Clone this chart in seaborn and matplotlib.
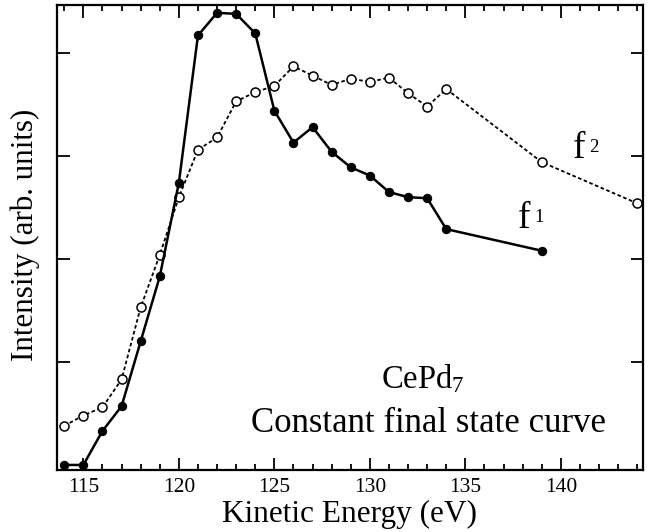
import matplotlib
matplotlib.use("Agg")
import matplotlib.pyplot as plt
from matplotlib.ticker import MultipleLocator
import seaborn as sns

# ---- data ----
energy_f1 = [114, 115, 116, 117, 118, 119, 120, 121, 122, 123, 124,
             125, 126, 127, 128, 129, 130, 131, 132, 133, 134, 139]
intensity_f1 = [0.00, 0.00, 0.33, 0.57, 1.20, 1.83, 2.74, 4.17, 4.39, 4.38, 4.19,
                3.44, 3.13, 3.28, 3.04, 2.89, 2.81, 2.65, 2.60, 2.59, 2.29, 2.08]

energy_f2 = [114, 115, 116, 117, 118, 119, 120, 121, 122, 123, 124,
             125, 126, 127, 128, 129, 130, 131, 132, 133, 134, 139, 144]
intensity_f2 = [0.38, 0.48, 0.56, 0.83, 1.53, 2.04, 2.60, 3.06, 3.18, 3.53, 3.62,
                3.68, 3.87, 3.78, 3.69, 3.75, 3.72, 3.76, 3.61, 3.48, 3.65, 2.94, 2.54]

x_ticks = [115, 120, 125, 130, 135, 140]
y_ticks = [1, 2, 3, 4]

sns.set_theme(style="ticks")
plt.rcParams["font.family"] = ["Liberation Serif", "DejaVu Serif"]
plt.rcParams["mathtext.fontset"] = "custom"
plt.rcParams["mathtext.rm"] = "Liberation Serif"
plt.rcParams["mathtext.it"] = "Liberation Serif:italic"
plt.rcParams["text.color"] = "black"
plt.rcParams["axes.labelcolor"] = "black"
plt.rcParams["xtick.color"] = "black"
plt.rcParams["ytick.color"] = "black"

fig = plt.figure(figsize=(6.49, 5.32), dpi=100)
ax = fig.add_axes([57 / 649, 62 / 532, 586 / 649, 465 / 532])

sns.lineplot(x=energy_f2, y=intensity_f2, ax=ax, sort=False, color="black",
             linestyle=(0, (2.0, 1.4)), linewidth=1.3, marker="o", markersize=6.5,
             markerfacecolor="white", markeredgecolor="black", markeredgewidth=1.1)
sns.lineplot(x=energy_f1, y=intensity_f1, ax=ax, sort=False, color="black",
             linewidth=1.8, marker="o", markersize=6,
             markerfacecolor="black", markeredgecolor="black", clip_on=False)

ax.set_xlim(113.62, 144.30)
ax.set_ylim(-0.049, 4.466)
ax.set_xticks(x_ticks)
ax.xaxis.set_minor_locator(MultipleLocator(1))
ax.set_yticks(y_ticks)
ax.set_yticklabels([])
ax.tick_params(which="both", direction="in", top=True, right=True,
               width=1.3, color="black", labelcolor="black")
ax.tick_params(which="major", length=9, pad=6, labelsize=15.5)
ax.tick_params(which="minor", length=4.5)
for sp in ax.spines.values():
    sp.set_linewidth(1.6)
    sp.set_color("black")

ax.set_xlabel("Kinetic Energy (eV)", fontsize=22.5, labelpad=2, color="black")
ax.set_ylabel("Intensity (arb. units)", fontsize=22.3, color="black")
ax.yaxis.set_label_coords(-0.0285, 0.505)

ax.text(132.78, 0.75, r"CePd$_{\mathrm{7}}$", fontsize=23.5, ha="center", va="baseline")
ax.text(133.09, 0.323, "Constant final state curve", fontsize=25, ha="center", va="baseline")

ax.text(140.64, 2.98, "f", fontsize=27, ha="left", va="baseline")
ax.annotate("2", xy=(140.64, 2.98), xytext=(11.5, 4.5), textcoords="offset points",
            fontsize=13.5, ha="left", va="baseline")
ax.text(137.76, 2.30, "f", fontsize=27, ha="left", va="baseline")
ax.annotate("1", xy=(137.76, 2.30), xytext=(11.5, 4.5), textcoords="offset points",
            fontsize=13.5, ha="left", va="baseline")

fig.savefig("out.png", dpi=100)
